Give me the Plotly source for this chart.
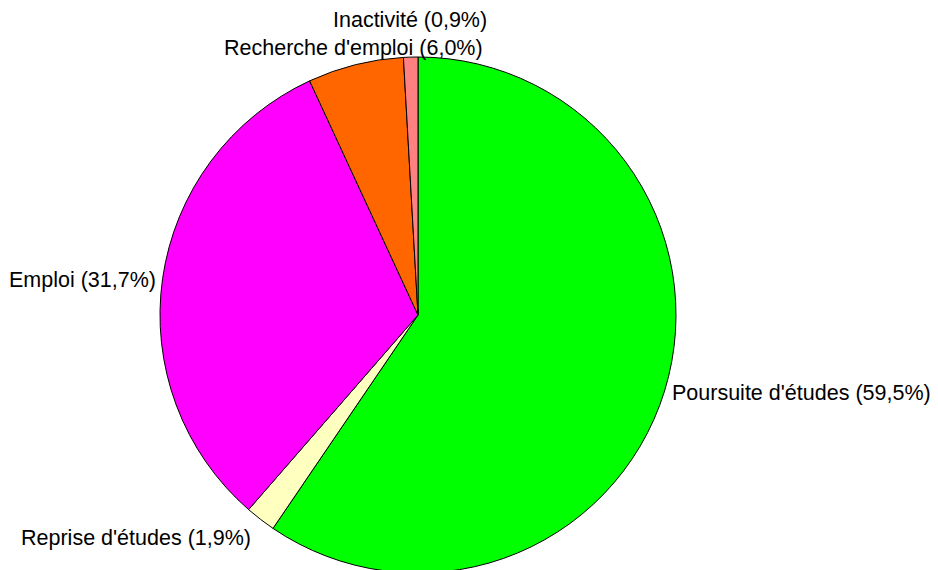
import plotly.graph_objects as go

labels = ["Poursuite d'études", "Reprise d'études", "Emploi", "Recherche d'emploi", "Inactivité"]
values = [59.5, 1.9, 31.7, 6.0, 0.9]
colors = ["#00FF00", "#FFFFC0", "#FF00FF", "#FF6600", "#FF8080"]
pct_text = ["59,5%", "1,9%", "31,7%", "6,0%", "0,9%"]

W, H = 938, 570
FONT = dict(family="Liberation Sans, Arial, sans-serif", size=21.5, color="black")

fig = go.Figure(go.Pie(
    labels=labels,
    values=values,
    textinfo="none",
    sort=False,
    direction="clockwise",
    rotation=0,
    marker=dict(colors=colors, line=dict(color="black", width=1)),
    domain=dict(x=[152 / W, 668 / W], y=[5 / H, 521 / H]),
    showlegend=False,
    hoverinfo="skip",
))

# label placement (pixel anchors in the figure): (x, y, xanchor)
label_pos = [
    (662, 385, "left"),
    (11, 530, "left"),
    (150, 272, "right"),
    (477, 40, "right"),
    (481, 12, "right"),
]

annotations = []
for lab, pct, (px, py, xa) in zip(labels, pct_text, label_pos):
    annotations.append(dict(
        text=f"{lab} ({pct})",
        xref="paper", yref="paper",
        x=px / W, y=1 - py / H,
        xanchor=xa, yanchor="middle",
        showarrow=False,
        font=FONT,
    ))

fig.update_layout(
    width=W, height=H,
    margin=dict(l=0, r=0, t=0, b=0),
    paper_bgcolor="white",
    plot_bgcolor="white",
    annotations=annotations,
)

fig.write_html("out.html")
